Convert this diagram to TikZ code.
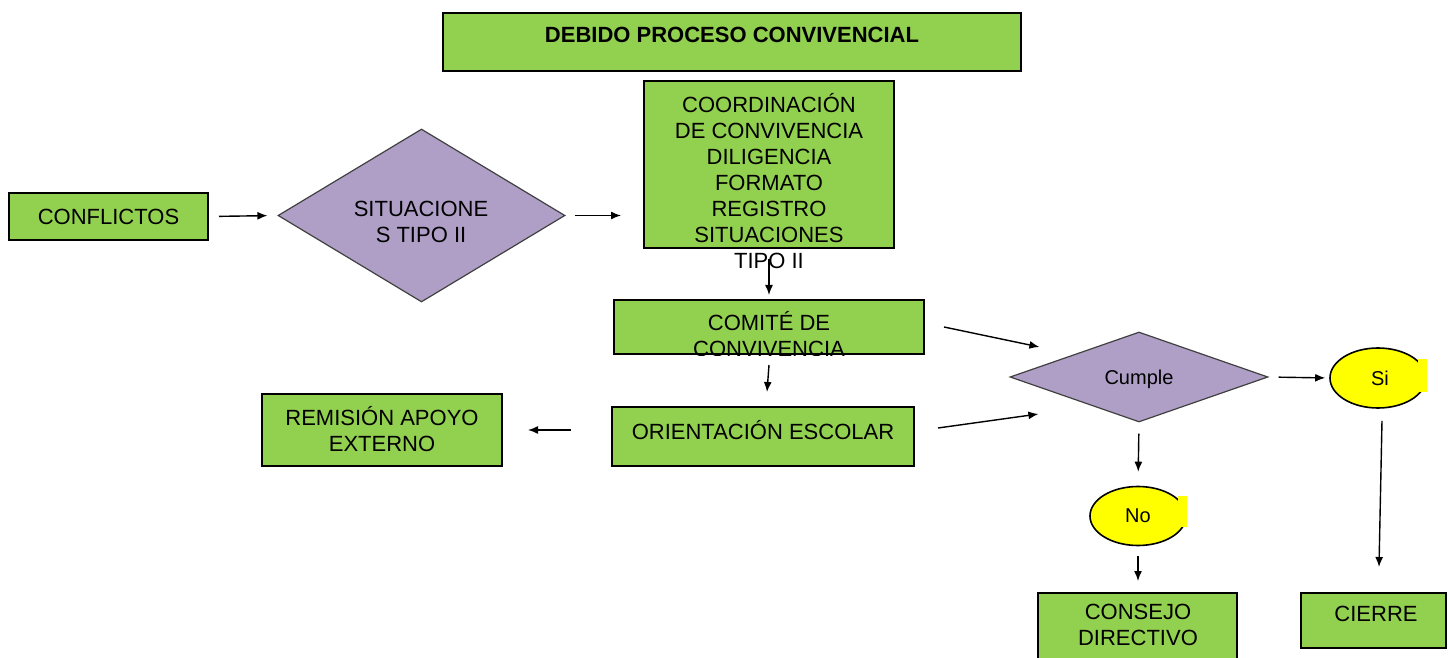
\documentclass[tikz,border=0pt]{standalone}
\usepackage{fontspec}
\setmainfont{Liberation Sans}
\usetikzlibrary{shapes.geometric,arrows.meta}
\definecolor{boxgreen}{HTML}{92D050}
\definecolor{dpurple}{HTML}{AF9FC6}
\definecolor{cyellow}{HTML}{FFFF00}
\begin{document}
\begin{tikzpicture}[x=0.5pt,y=-0.5pt,
  box/.style={draw=black,line width=1pt,fill=boxgreen,inner sep=0pt},
  dia/.style={diamond,draw=black!75,line width=0.6pt,fill=dpurple,inner sep=0pt},
  oval/.style={ellipse,draw=black,line width=0.8pt,fill=cyellow,inner sep=0pt,font=\fontsize{10}{12}\selectfont},
  txt/.style={font=\fontsize{11}{13}\selectfont,align=center,inner sep=0pt},
  arr/.style={-{Latex[length=5pt,width=4pt]},line width=0.7pt}]
\useasboundingbox (0,0) rectangle (1448,658);
% title
\node[box,minimum width=289pt,minimum height=29pt] (title) at (732,42) {};
\node[txt,font=\bfseries\fontsize{11}{13}\selectfont] (titletxt) at (732,35) {DEBIDO PROCESO CONVIVENCIAL};
% coordination
\node[box,minimum width=125pt,minimum height=83.5pt] (coord) at (769,164.5) {};
\node[txt] (coordtxt) at (769,181) {COORDINACIÓN\\DE CONVIVENCIA\\DILIGENCIA\\FORMATO\\REGISTRO\\SITUACIONES\\TIPO II};
% conflictos
\node[box,minimum width=99.5pt,minimum height=23.5pt,font=\fontsize{11}{13}\selectfont] (conf) at (108.5,216.5) {CONFLICTOS};
% situaciones diamond
\node[dia,minimum width=143.5pt,minimum height=86.5pt] (sit) at (421.5,215.5) {};
\node[txt] (sittxt) at (421,222) {SITUACIONE\\S TIPO II};
% comite
\node[box,minimum width=155pt,minimum height=27pt] (comite) at (769,327) {};
\begin{scope}
\clip (comite.south west) rectangle (comite.north east);
\node[txt] (comitetxt) at (769,334) {COMITÉ DE\\CONVIVENCIA};
\end{scope}
% orientacion
\node[box,minimum width=151pt,minimum height=29.5pt] (orient) at (763,436.5) {};
\node[txt] (orienttxt) at (763,430) {ORIENTACIÓN ESCOLAR};
% remision
\node[box,minimum width=120pt,minimum height=36pt] (remision) at (382,430) {};
\node[txt] (remisiontxt) at (382,429) {REMISIÓN APOYO\\EXTERNO};
% cumple
\node[dia,minimum width=129pt,minimum height=45pt] (cumple) at (1139,377) {};
\node[txt,font=\fontsize{10}{12}\selectfont] (cumpletxt) at (1139,379) {Cumple};
% si / no
\node[oval,minimum width=48pt,minimum height=30pt] (si) at (1378,378) {\hspace{2pt}Si};
\fill[cyellow] ([xshift=-4.5pt,yshift=9.5pt]si.east) rectangle ([xshift=0.3pt,yshift=-7pt]si.east);
\node[oval,minimum width=48pt,minimum height=29.5pt] (no) at (1138,516) {No};
\fill[cyellow] ([xshift=-4.5pt,yshift=10pt]no.east) rectangle ([xshift=0.3pt,yshift=-5.5pt]no.east);
% consejo / cierre
\node[box,minimum width=99.5pt,minimum height=36pt] (consejo) at (1137.5,629) {};
\node[txt] (consejotxt) at (1138,625) {CONSEJO\\DIRECTIVO};
\node[box,minimum width=72.5pt,minimum height=27.5pt] (cierre) at (1373.5,620.5) {};
\node[txt] (cierretxt) at (1376,614) {CIERRE};
% connectors
\draw[arr,shorten <=5pt,shorten >=5pt] (conf.east) -- (sit.west);
\draw[arr,shorten <=4.5pt,shorten >=11pt] (sit.east) -- (sit.east -| coord.west);
\draw[arr,shorten <=5pt,shorten >=2pt] (coord.south) -- (comite.north);
\draw[arr] ([xshift=9.5pt]comite.east) -- ([xshift=15pt,yshift=15pt]cumple.west);
\draw[arr] ([yshift=-5pt]comite.south) -- ([xshift=-1pt,yshift=7pt]comite.south |- orient.north);
\draw[arr] ([xshift=-20pt]orient.west |- remision.east) -- ([xshift=12.5pt]remision.east);
\draw[arr] ([xshift=11.5pt,yshift=4.25pt]orient.east) -- ([xshift=14.5pt,yshift=-18.5pt]cumple.west);
\draw[arr,shorten <=5pt,shorten >=2pt] (cumple.east) -- (si.west);
\draw[arr,shorten <=5.5pt,shorten >=7pt] (cumple.south) -- (no.north);
\draw[arr,shorten <=5pt,shorten >=5.5pt] (no.south) -- (no.south |- consejo.north);
\draw[arr] ([xshift=2pt,yshift=-6pt]si.south) -- ([xshift=2.75pt,yshift=12.5pt]cierre.north);
\end{tikzpicture}
\end{document}
